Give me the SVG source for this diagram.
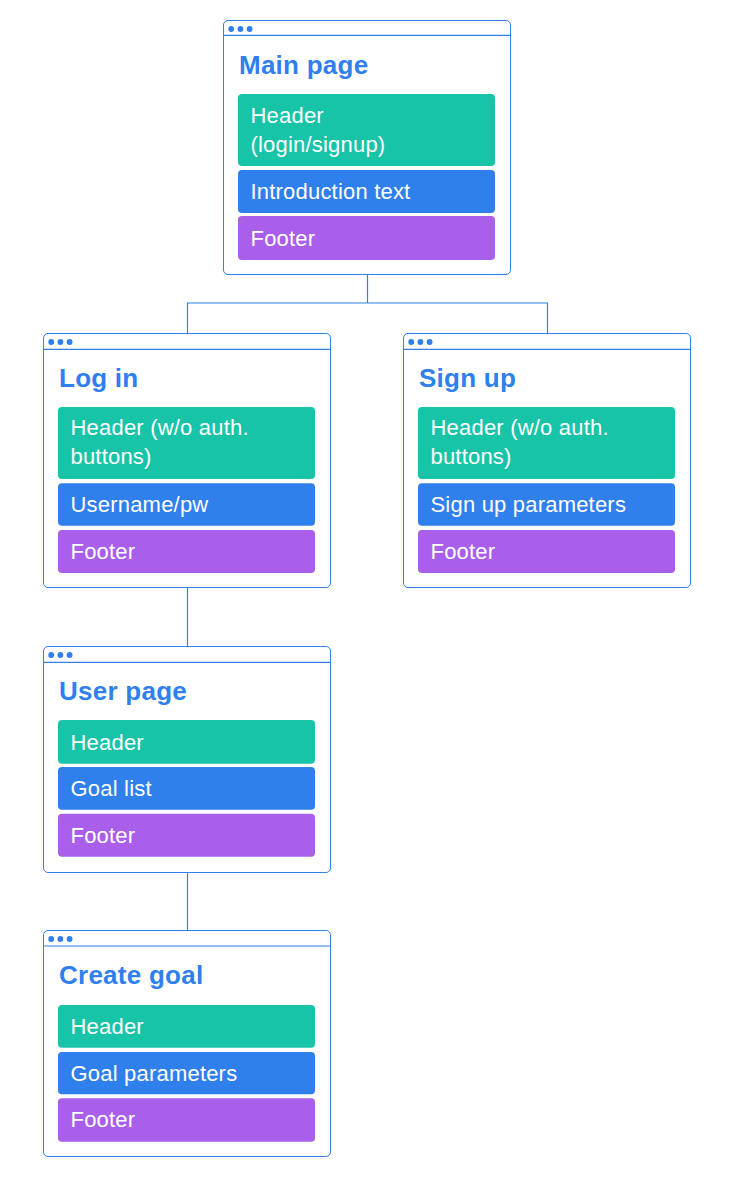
<svg xmlns="http://www.w3.org/2000/svg" width="730" height="1186" viewBox="0 0 730 1186">
  <style>
    .win { fill: #ffffff; stroke: #2f80ed; stroke-width: 1; }
    .bar { stroke: #2f80ed; stroke-width: 1.2; }
    .dot { fill: #2f80ed; }
    .title { font-family: "Liberation Sans", Arial, sans-serif; font-weight: bold; font-size: 26px; letter-spacing: 0.25px; fill: #2f80ed; }
    .label { font-family: "Liberation Sans", Arial, sans-serif; font-size: 22px; letter-spacing: 0.2px; fill: #ffffff; }
    .g { fill: #18c4a8; }
    .b { fill: #2f80ed; }
    .p { fill: #a95fe9; }
    .link { stroke: #2f80ed; fill: none; stroke-width: 1.2; }
  </style>
  <defs>
    <!-- browser-style window chrome: title bar dots -->
    <g id="dots">
      <circle class="dot" cx="8.2" cy="9" r="2.9"/>
      <circle class="dot" cx="17.4" cy="9" r="2.9"/>
      <circle class="dot" cx="26.6" cy="9" r="2.9"/>
    </g>
  </defs>
  <rect width="730" height="1186" fill="#ffffff"/>

  <!-- connectors -->
  <g id="connectors">
    <line class="link" x1="367.5" y1="274.5" x2="367.5" y2="303"/>
    <line class="link" x1="187" y1="303" x2="548" y2="303" stroke-width="2"/>
    <line class="link" x1="187.5" y1="303" x2="187.5" y2="333.5"/>
    <line class="link" x1="547.5" y1="303" x2="547.5" y2="333.5"/>
    <line class="link" x1="187.5" y1="587.5" x2="187.5" y2="646.5"/>
    <line class="link" x1="187.5" y1="872.5" x2="187.5" y2="930.5"/>
  </g>

  <!-- Main page -->
  <g id="main-page" transform="translate(223,20)">
    <rect class="win" x="0.5" y="0.5" width="287" height="254" rx="4.5"/>
    <line class="bar" x1="0.5" y1="15.3" x2="287.5" y2="15.3"/>
    <use href="#dots"/>
    <text class="title" x="16" y="54">Main page</text>
    <rect class="g" x="15" y="74" width="257" height="72" rx="4"/>
    <text class="label" x="27.5" y="102.7">Header</text>
    <text class="label" x="27.5" y="132.3">(login/signup)</text>
    <rect class="b" x="15" y="150" width="257" height="43" rx="4"/>
    <text class="label" x="27.5" y="179.3">Introduction text</text>
    <rect class="p" x="15" y="196" width="257" height="44" rx="4"/>
    <text class="label" x="27.5" y="226">Footer</text>
  </g>

  <!-- Log in -->
  <g id="log-in" transform="translate(43,333)">
    <rect class="win" x="0.5" y="0.5" width="287" height="254" rx="4.5"/>
    <line class="bar" x1="0.5" y1="16.3" x2="287.5" y2="16.3"/>
    <use href="#dots"/>
    <text class="title" x="16" y="54">Log in</text>
    <rect class="g" x="15" y="74" width="257" height="72" rx="4"/>
    <text class="label" x="27.5" y="102">Header (w/o auth.</text>
    <text class="label" x="27.5" y="131">buttons)</text>
    <rect class="b" x="15" y="150.3" width="257" height="42.5" rx="4"/>
    <text class="label" x="27.5" y="178.7">Username/pw</text>
    <rect class="p" x="15" y="197" width="257" height="43" rx="4"/>
    <text class="label" x="27.5" y="226">Footer</text>
  </g>

  <!-- Sign up -->
  <g id="sign-up" transform="translate(403,333)">
    <rect class="win" x="0.5" y="0.5" width="287" height="254" rx="4.5"/>
    <line class="bar" x1="0.5" y1="16.3" x2="287.5" y2="16.3"/>
    <use href="#dots"/>
    <text class="title" x="16" y="54">Sign up</text>
    <rect class="g" x="15" y="74" width="257" height="72" rx="4"/>
    <text class="label" x="27.5" y="102">Header (w/o auth.</text>
    <text class="label" x="27.5" y="131">buttons)</text>
    <rect class="b" x="15" y="150.3" width="257" height="42.5" rx="4"/>
    <text class="label" x="27.5" y="178.7">Sign up parameters</text>
    <rect class="p" x="15" y="197" width="257" height="43" rx="4"/>
    <text class="label" x="27.5" y="226">Footer</text>
  </g>

  <!-- User page -->
  <g id="user-page" transform="translate(43,646)">
    <rect class="win" x="0.5" y="0.5" width="287" height="226" rx="4.5"/>
    <line class="bar" x1="0.5" y1="16.3" x2="287.5" y2="16.3"/>
    <use href="#dots"/>
    <text class="title" x="16" y="54">User page</text>
    <rect class="g" x="15" y="74" width="257" height="43.7" rx="4"/>
    <text class="label" x="27.5" y="104">Header</text>
    <rect class="b" x="15" y="121" width="257" height="42.7" rx="4"/>
    <text class="label" x="27.5" y="149.7">Goal list</text>
    <rect class="p" x="15" y="167.7" width="257" height="43" rx="4"/>
    <text class="label" x="27.5" y="196.7">Footer</text>
  </g>

  <!-- Create goal -->
  <g id="create-goal" transform="translate(43,930)">
    <rect class="win" x="0.5" y="0.5" width="287" height="226" rx="4.5"/>
    <line class="bar" x1="0.5" y1="16" x2="287.5" y2="16"/>
    <use href="#dots"/>
    <text class="title" x="16" y="54.3">Create goal</text>
    <rect class="g" x="15" y="75" width="257" height="42.7" rx="4"/>
    <text class="label" x="27.5" y="104">Header</text>
    <rect class="b" x="15" y="122" width="257" height="42.3" rx="4"/>
    <text class="label" x="27.5" y="151">Goal parameters</text>
    <rect class="p" x="15" y="168.3" width="257" height="43.4" rx="4"/>
    <text class="label" x="27.5" y="197.3">Footer</text>
  </g>
</svg>
